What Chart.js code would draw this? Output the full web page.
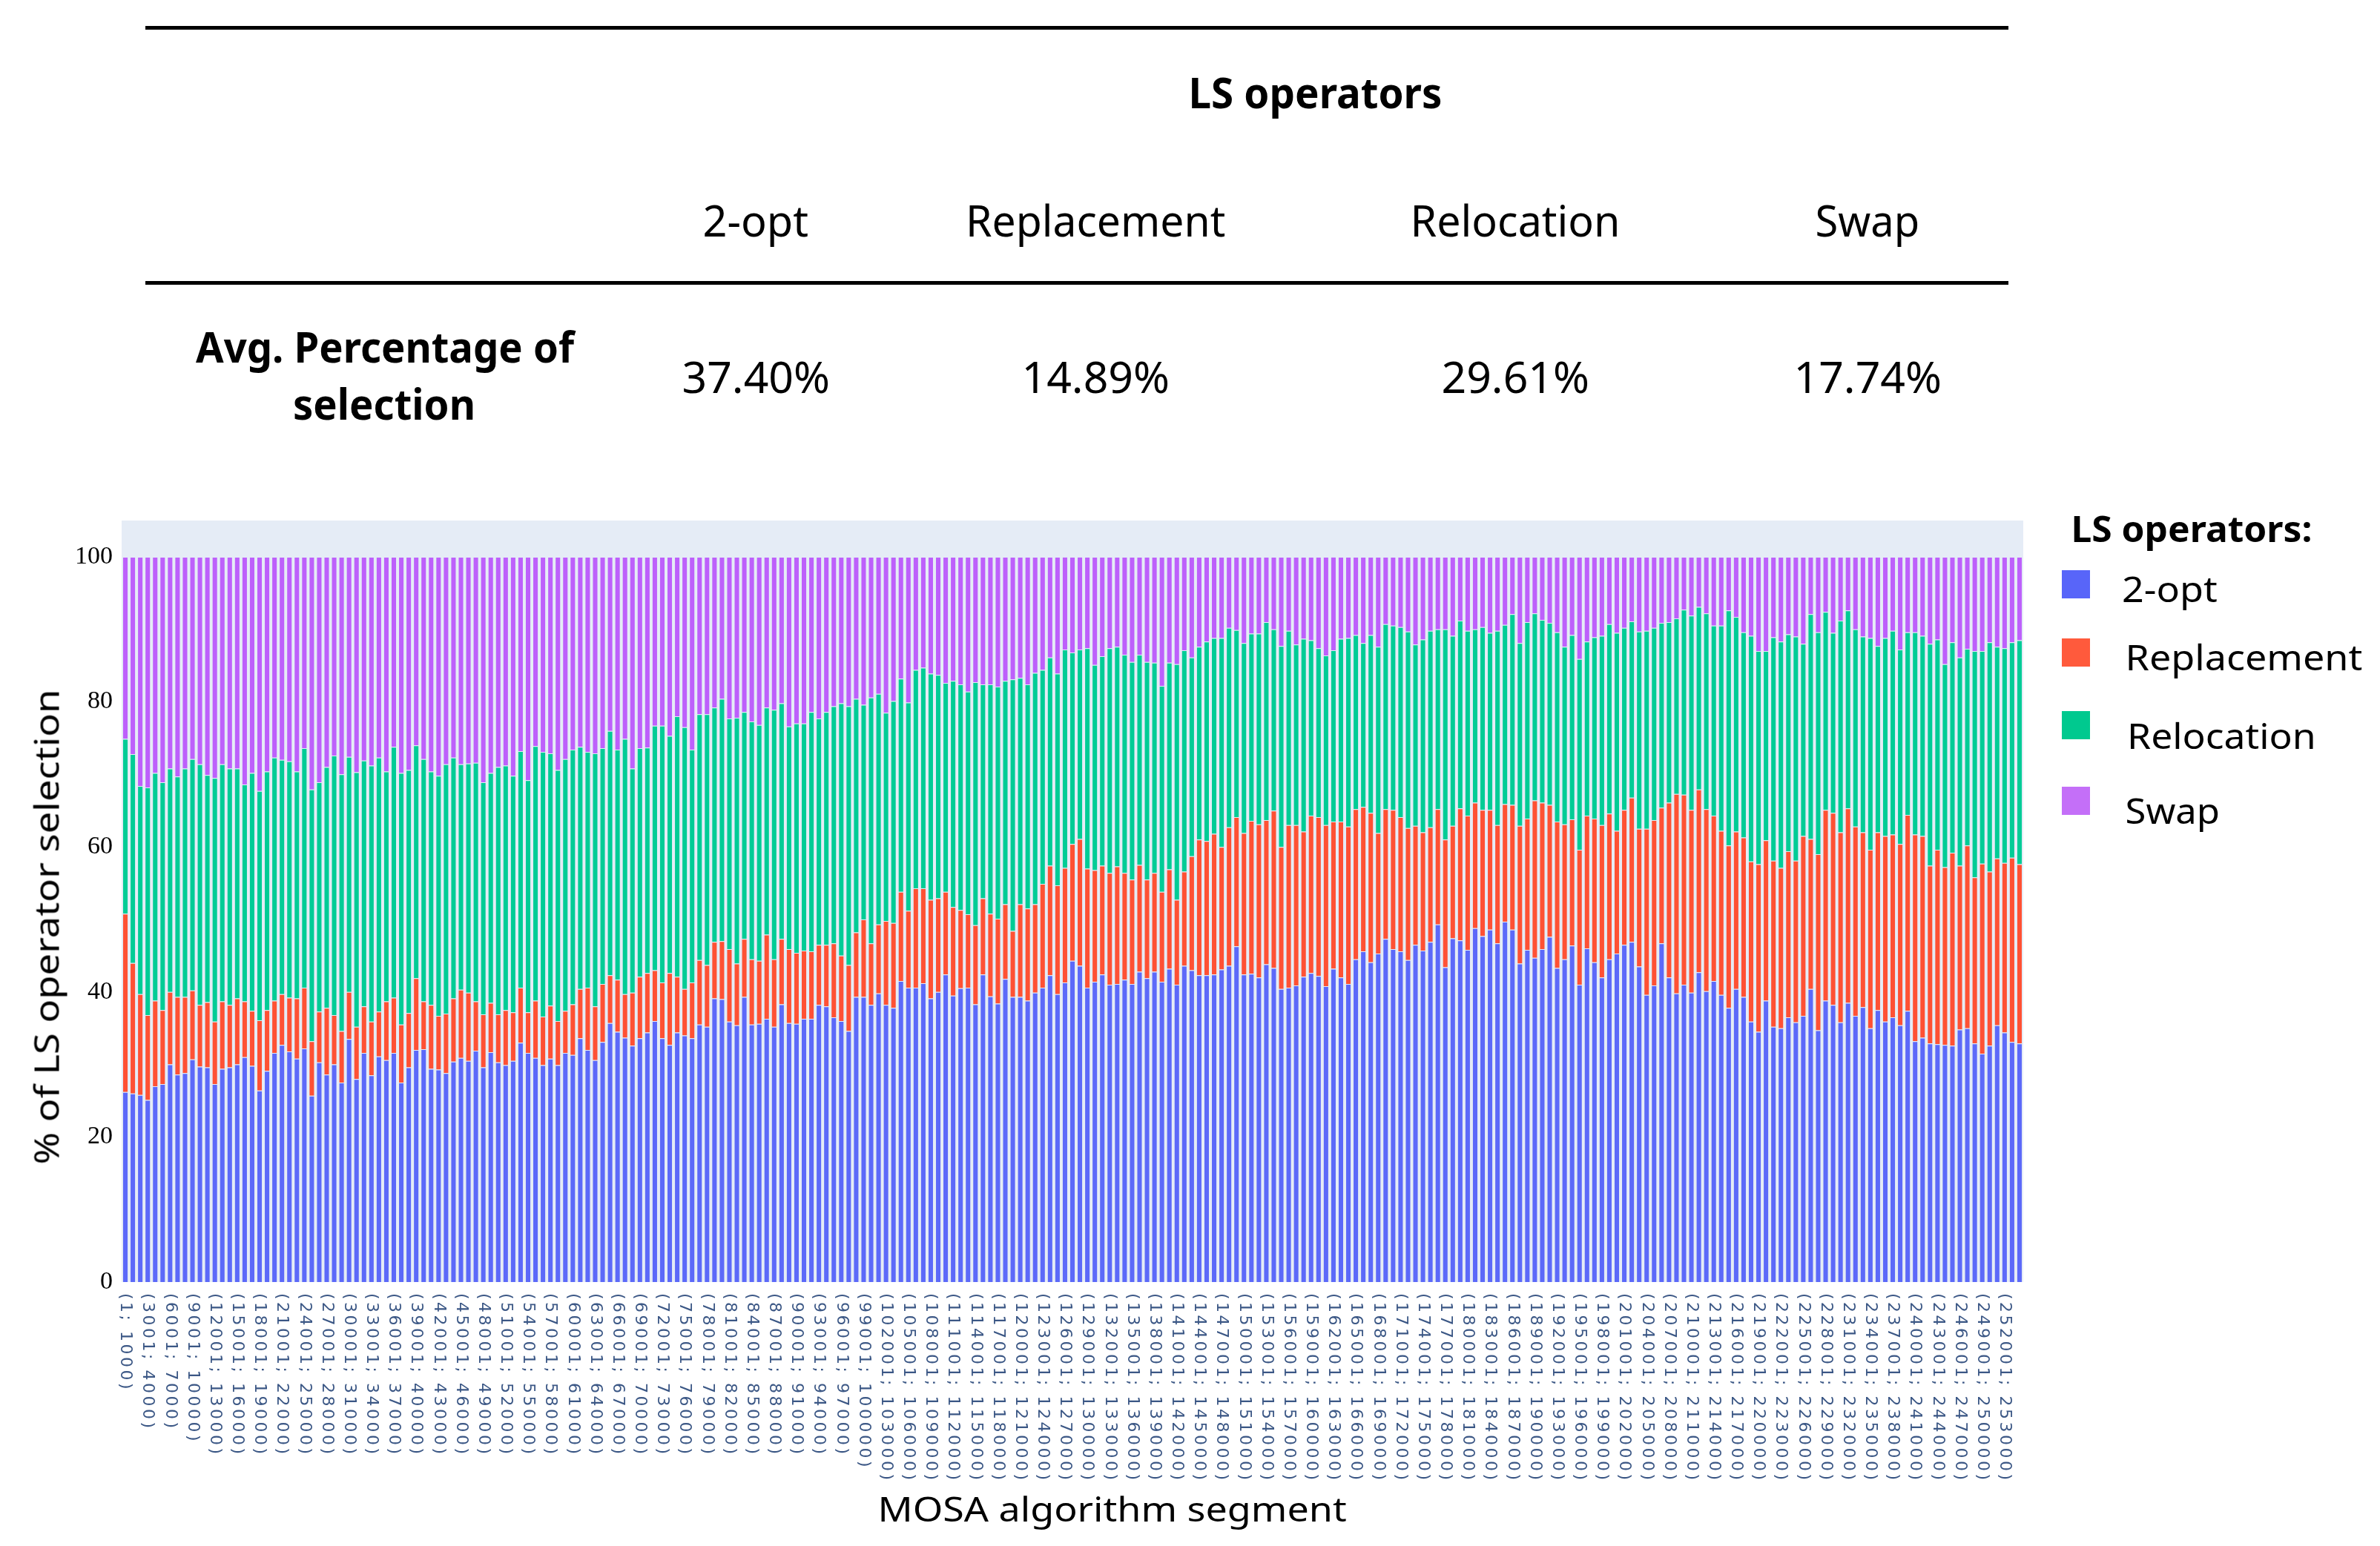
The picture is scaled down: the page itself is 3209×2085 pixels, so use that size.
<!DOCTYPE html>
<html><head><meta charset="utf-8">
<script src="https://cdn.jsdelivr.net/npm/chart.js@4.4.1/dist/chart.umd.min.js"></script>
<style>
html,body{margin:0;padding:0;background:#fff;width:3209px;height:2085px;overflow:hidden;}
#wrap{position:relative;width:3209px;height:2085px;}
canvas{position:absolute;left:0;top:0;}
.t{position:absolute;white-space:nowrap;color:#000;font-family:"Noto Sans",sans-serif;line-height:1;transform-origin:center center;}
.rule{position:absolute;background:#000;}
.sw{position:absolute;}
</style></head>
<body><div id="wrap"><canvas id="c" width="3209" height="2085"></canvas></div>
<script>
// ---------- data ----------
const seriesNames = ['2-opt', 'Replacement', 'Relocation', 'Swap'];
const tableAverages = ['37.40%', '14.89%', '29.61%', '17.74%'];
const segmentCount = 255;
const categories = [];
for (let k = 0; k < segmentCount; k++) categories.push('(' + (k * 1000 + 1) + '; ' + ((k + 1) * 1000) + ')');
const yTicks = [0, 20, 40, 60, 80, 100];

const twoOpt = [
26.2,26.0,25.8,25.1,27.0,27.3,30.0,28.6,28.8,30.7,29.7,29.6,27.3,29.4,29.6,30.0,31.0,29.8,26.4,29.1,31.6,32.7,31.8,30.8,32.2,25.7,30.3,28.6,30.0,27.5,33.5,28.0,
31.6,28.5,31.1,30.6,31.6,27.5,29.6,32.0,32.1,29.4,29.3,28.8,30.4,30.9,30.5,31.9,29.6,31.7,30.3,29.9,30.5,33.0,31.6,30.9,29.9,30.8,29.9,31.6,31.3,33.6,32.0,30.6,
33.1,35.7,34.5,33.7,32.6,33.6,34.4,36.0,33.6,32.7,34.4,34.0,33.6,35.5,35.2,39.1,39.0,35.9,35.4,39.3,35.5,35.6,36.3,35.2,38.3,35.7,35.6,36.3,36.3,38.2,38.0,36.5,
36.0,34.6,39.3,39.3,38.2,39.8,38.2,37.8,41.5,40.6,40.6,41.2,39.1,40.0,42.4,39.5,40.5,40.6,38.3,42.4,39.4,38.4,41.8,39.3,39.3,38.8,39.9,40.6,42.3,39.7,41.3,44.3,
43.6,40.6,41.4,42.4,41.0,41.1,41.7,41.1,42.8,41.9,42.8,41.4,43.2,41.0,43.6,43.0,42.3,42.3,42.4,43.1,43.6,46.3,42.4,42.5,42.0,43.8,43.3,40.4,40.6,40.9,42.1,42.6,
42.2,40.8,43.2,42.0,41.1,44.5,45.6,44.1,45.3,47.3,45.9,45.6,44.4,46.5,45.7,46.9,49.3,43.4,47.4,47.1,45.8,48.8,47.7,48.6,46.7,49.7,48.6,43.9,45.8,44.7,45.9,
47.6,43.3,44.5,46.4,41.0,46.0,44.1,42.0,44.5,45.3,46.5,46.9,43.5,39.6,40.9,46.7,42.0,39.8,41.0,39.9,42.7,40.1,41.5,39.6,37.8,40.4,39.3,35.9,34.5,38.8,35.2,35.0,
36.5,35.8,36.7,40.4,34.7,38.8,38.2,35.8,38.5,36.7,37.9,35.0,37.5,35.9,36.5,35.4,37.4,33.2,33.7,32.9,32.8,32.7,32.6,34.8,35.0,32.9,31.5,32.6,35.4,34.4,33.1,32.9
];
const replacement = [
24.6,18.0,13.9,11.7,11.8,10.2,10.0,10.7,10.5,9.5,8.5,9.0,8.6,9.3,8.6,9.1,7.7,7.6,9.7,8.4,7.2,7.0,7.4,8.3,8.4,7.5,7.0,9.2,6.8,7.1,6.5,7.2,
6.4,7.4,6.2,8.1,7.6,8.0,7.5,9.9,6.6,8.8,7.4,8.2,8.7,9.4,9.4,6.8,7.3,6.8,6.6,7.6,6.7,7.6,5.6,7.9,6.7,7.3,6.1,5.8,7.0,6.8,8.6,7.4,
8.0,6.6,7.2,6.0,7.3,8.5,8.2,7.0,7.7,9.9,7.7,6.4,7.7,8.9,8.5,7.8,8.0,10.0,8.5,8.0,9.0,8.7,11.6,9.3,9.0,10.2,9.8,9.4,9.3,8.3,8.5,10.2,
9.0,9.1,8.9,10.7,8.5,9.5,11.6,11.7,12.3,10.6,13.7,13.1,13.6,12.9,11.4,12.2,10.8,10.1,10.9,10.5,11.4,11.7,10.3,9.1,12.8,12.7,12.2,14.3,15.1,15.0,15.8,16.1,
17.5,16.4,15.4,15.0,15.4,16.2,14.7,14.4,14.7,13.6,13.6,12.4,13.7,11.7,13.0,15.7,18.7,18.5,19.4,16.9,19.1,17.8,19.5,21.1,21.1,19.9,21.7,19.6,22.4,22.1,20.0,21.7,
21.9,22.2,20.3,21.5,21.7,20.7,19.9,20.6,16.6,17.9,19.2,18.5,18.2,16.4,16.3,15.8,15.9,17.6,15.5,18.2,18.5,17.3,17.4,16.5,16.3,16.2,17.2,19.0,18.1,21.7,20.2,
18.2,20.2,18.6,17.4,18.6,18.3,19.8,21.0,20.1,16.9,18.6,19.9,19.0,22.9,22.8,18.7,24.1,27.5,26.2,25.2,25.2,25.1,22.8,22.6,22.4,21.7,22.0,22.1,23.1,22.1,22.9,22.1,
22.9,22.3,24.8,20.7,24.3,26.3,26.5,26.2,26.8,26.1,24.1,24.6,24.5,25.6,25.2,25.0,27.0,28.5,27.8,24.5,26.8,24.5,26.6,22.6,25.2,22.9,26.2,24.0,23.0,23.4,25.4,24.7
];
const relocation = [
24.1,28.8,28.7,31.4,31.4,31.4,30.8,30.4,31.5,31.9,33.2,31.3,33.6,32.7,32.6,31.7,29.9,32.8,31.6,32.9,33.5,32.3,32.6,31.3,33.0,34.7,31.6,33.2,35.8,35.4,32.4,35.1,
33.9,35.3,35.0,31.7,34.6,34.7,33.5,32.1,33.4,32.2,33.1,34.4,33.2,31.1,31.6,32.9,32.0,31.7,34.1,33.7,32.6,32.6,32.0,35.1,36.5,34.8,34.6,34.7,35.1,33.4,32.5,34.9,
32.5,33.7,31.7,35.2,30.9,31.5,31.1,33.7,35.4,32.7,35.9,36.1,32.1,33.9,34.6,32.3,33.4,31.8,33.9,31.3,32.8,32.5,31.3,34.4,32.5,30.7,31.6,31.3,33.0,31.2,32.1,32.7,
34.8,35.7,32.2,29.6,33.9,31.8,28.7,30.6,29.4,28.7,30.1,30.4,31.2,30.8,28.8,31.2,31.1,30.7,33.5,29.5,31.6,32.0,30.8,34.7,31.2,30.9,31.9,29.5,28.7,29.2,30.1,26.4,
26.1,30.4,28.3,28.9,31.0,30.3,30.1,30.0,29.0,30.0,29.0,28.4,28.5,32.5,30.5,27.4,26.6,27.5,27.0,28.8,27.5,25.8,26.2,25.8,26.3,27.3,25.0,27.7,26.8,24.9,26.6,24.2,
23.3,23.4,23.6,25.2,26.0,24.0,22.6,24.5,25.7,25.5,25.4,26.2,27.1,25.0,26.6,27.1,24.8,29.0,26.2,25.9,25.5,23.9,25.2,24.4,26.8,24.7,26.3,25.2,27.1,25.8,25.2,
25.1,26.1,24.5,25.4,26.3,24.0,25.0,26.1,26.1,27.3,25.1,24.3,27.2,27.3,26.5,25.5,24.9,24.2,25.5,26.8,25.2,27.0,26.2,28.3,32.4,29.6,28.3,31.1,29.4,26.1,30.8,31.2,
29.9,30.9,26.5,31.0,30.6,27.3,24.8,29.2,27.3,27.2,27.0,29.2,25.7,27.3,28.1,26.8,25.2,27.9,27.6,30.6,29.0,28.0,29.0,28.7,27.1,31.2,29.3,31.6,29.2,29.6,29.7,30.9
];
const swap = [
25.1,27.2,31.6,31.8,29.8,31.1,29.2,30.3,29.2,27.9,28.6,30.1,30.5,28.6,29.2,29.2,31.4,29.8,32.3,29.6,27.7,28.0,28.2,29.6,26.4,32.1,31.1,29.0,27.4,30.0,27.6,29.7,
28.1,28.8,27.7,29.6,26.2,29.8,29.4,26.0,27.9,29.6,30.2,28.6,27.7,28.6,28.5,28.4,31.1,29.8,29.0,28.8,30.2,26.8,30.8,26.1,26.9,27.1,29.4,27.9,26.6,26.2,26.9,27.1,
26.4,24.0,26.6,25.1,29.2,26.4,26.3,23.3,23.3,24.7,22.0,23.5,26.6,21.7,21.7,20.8,19.6,22.3,22.2,21.4,22.7,23.2,20.8,21.1,20.2,23.4,23.0,23.0,21.4,22.3,21.4,20.6,
20.2,20.6,19.6,20.4,19.4,18.9,21.5,19.9,16.8,20.1,15.6,15.3,16.1,16.3,17.4,17.1,17.6,18.6,17.3,17.6,17.6,17.9,17.1,16.9,16.7,17.6,16.0,15.6,13.9,16.1,12.8,13.2,
12.8,12.6,14.9,13.7,12.6,12.4,13.5,14.5,13.5,14.5,14.6,17.8,14.6,14.8,12.9,13.9,12.4,11.7,11.2,11.2,9.8,10.1,11.9,10.6,10.6,9.0,10.0,12.3,10.2,12.1,11.3,11.5,
12.6,13.6,12.9,11.3,11.2,10.8,11.9,10.8,12.4,9.3,9.5,9.7,10.3,12.1,11.4,10.2,10.0,10.0,10.9,8.8,10.2,10.0,9.7,10.5,10.2,9.4,7.9,11.9,9.0,7.8,8.7,
9.1,10.4,12.4,10.8,14.1,11.7,11.1,10.9,9.3,10.5,9.8,8.9,10.3,10.2,9.8,9.1,9.0,8.5,7.3,8.1,6.9,7.8,9.5,9.5,7.4,8.3,10.4,10.9,13.0,13.0,11.1,11.7,
10.7,11.0,12.0,7.9,10.4,7.6,10.5,8.8,7.4,10.0,11.0,11.2,12.3,11.2,10.2,12.8,10.4,10.4,10.9,12.0,11.4,14.8,11.8,13.9,12.7,13.0,13.0,11.8,12.4,12.6,11.8,11.5
];

// ---------- styling ----------
const barColors = ['#5c69f9', '#fe5134', '#00cc96', '#bd60fb'];
const legendColors = ['#5865f9', '#ff5a3c', '#00c98f', '#c46ff8'];
const wrap = document.getElementById('wrap');

function place(txt, x, cy, w, size, opts) {
  opts = opts || {};
  const d = document.createElement('div');
  d.className = 't';
  d.textContent = txt;
  d.style.fontSize = size + 'px';
  if (opts.bold) d.style.fontWeight = '700';
  if (opts.family) d.style.fontFamily = opts.family;
  wrap.appendChild(d);
  const mw = d.offsetWidth, mh = d.offsetHeight;
  const sx = w ? w / mw : 1;
  let cx = x;
  if (opts.left) cx = x + w / 2;
  d.style.left = (cx - mw / 2) + 'px';
  d.style.top = (cy - mh / 2) + 'px';
  d.style.transform = (opts.rot ? 'rotate(' + opts.rot + 'deg) ' : '') + 'scaleX(' + sx + ')';
  return d;
}
function rule(x, y, w, h) {
  const d = document.createElement('div');
  d.className = 'rule';
  d.style.left = x + 'px'; d.style.top = y + 'px'; d.style.width = w + 'px'; d.style.height = h + 'px';
  wrap.appendChild(d);
}

// ---------- table ----------
rule(196, 35, 2512, 5);
rule(196, 379, 2512, 5);
place('LS operators', 1773, 124, 342, 58, {bold: true});
const colCenters = [1019, 1477, 2043, 2518];
const headWidths = [143, 350, 283, 141];
seriesNames.forEach((n, i) => place(n, colCenters[i], 297, headWidths[i], 58));
place('Avg. Percentage of', 519, 467, 510, 58, {bold: true});
place('selection', 518, 544, 246, 58, {bold: true});
tableAverages.forEach((v, i) => place(v, colCenters[i], 508, 199, 58));

// ---------- legend ----------
place('LS operators:', 2792, 713, 325, 48, {bold: true, left: true});
const legY = [788, 880, 978, 1080];
const legTextY = [794, 886, 992, 1093];
const legTextX = [2861, 2865, 2868, 2865];
const legTextW = [129, 320, 255, 128];
seriesNames.forEach((n, i) => {
  const s = document.createElement('div');
  s.className = 'sw';
  s.style.left = '2780px'; s.style.top = (legY[i] - 19) + 'px';
  s.style.width = '38px'; s.style.height = '38px';
  s.style.background = legendColors[i];
  wrap.appendChild(s);
  place(n, legTextX[i], legTextY[i], legTextW[i], 48, {left: true});
});

// ---------- axis titles ----------
place('% of LS operator selection', 61, 1250, 641, 46, {rot: -90});
place('MOSA algorithm segment', 1499, 2034, 632, 46);

// ---------- chart ----------
const bgPlugin = {
  id: 'bg',
  beforeDraw(chart) {
    const a = chart.chartArea, c = chart.ctx;
    c.save(); c.fillStyle = '#e5ecf6'; c.fillRect(a.left, a.top, a.right - a.left, a.bottom - a.top); c.restore();
  }
};
const xLabelPlugin = {
  id: 'xlabels',
  afterDraw(chart) {
    const xs = chart.scales.x, c = chart.ctx;
    c.save();
    c.font = '22px "DejaVu Sans"';
    c.fillStyle = '#3b5785';
    c.textAlign = 'left';
    c.textBaseline = 'middle';
    if ('letterSpacing' in c) c.letterSpacing = '3.5px';
    for (let i = 0; i < categories.length; i += 3) {
      const x = xs.getPixelForValue(i);
      c.save();
      c.translate(x, chart.chartArea.bottom + 15);
      c.rotate(Math.PI / 2);
      c.fillText(categories[i], 0, 0);
      c.restore();
    }
    c.restore();
  }
};
const seriesData = [twoOpt, replacement, relocation, swap];
new Chart(document.getElementById('c'), {
  type: 'bar',
  data: {
    labels: categories,
    datasets: seriesNames.map((n, i) => ({
      label: n, data: seriesData[i], backgroundColor: barColors[i],
      borderColor: 'rgba(229,236,246,0.85)', borderWidth: 1,
      barPercentage: 0.8, categoryPercentage: 1.0
    }))
  },
  options: {
    responsive: false, animation: false, devicePixelRatio: 1,
    layout: {padding: {left: 0, top: 702, right: 481, bottom: 0}},
    plugins: {legend: {display: false}, tooltip: {enabled: false}},
    scales: {
      x: {stacked: true, grid: {display: false}, border: {display: false}, ticks: {display: false},
          afterFit: s => { s.height = 356; }},
      y: {stacked: true, min: 0, max: 105, grid: {display: false}, border: {display: false},
          afterBuildTicks: s => { s.ticks = yTicks.map(v => ({value: v})); },
          ticks: {font: {family: 'Liberation Serif', size: 34}, color: '#000', padding: 4},
          afterFit: s => { s.width = 164; }}
    }
  },
  plugins: [bgPlugin, xLabelPlugin]
});
</script>
</body></html>
